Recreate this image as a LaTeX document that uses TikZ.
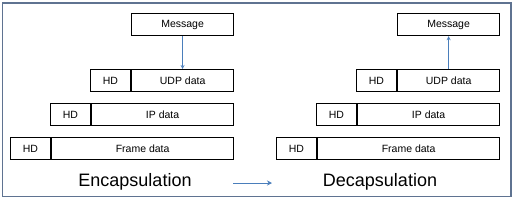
\documentclass[tikz,border=0pt]{standalone}
\usepackage{fontspec}
\setmainfont{Liberation Sans}
\usepackage{xcolor}
\usetikzlibrary{arrows.meta}
\definecolor{framegray}{HTML}{5F7391}
\definecolor{arrowblue}{HTML}{4A7EBB}

\begin{document}
\begin{tikzpicture}[x=1pt, y=-1pt, >=stealth,
    box/.style={draw, line width=1.2pt, minimum height=22pt, inner sep=1pt, font=\fontsize{10.5}{12}\selectfont},
    hdbox/.style={box, minimum width=40pt},
    flow/.style={->, arrowblue, line width=0.8pt},
    title/.style={font=\fontsize{18}{20}\selectfont}]
    \useasboundingbox (0,0) rectangle (516,202);
    \draw[framegray, line width=1.2pt] (2.5,3) rectangle (511,196.5);
    % Encapsulation side
    \node[box, minimum width=102pt, anchor=north west] (msgL) at (131,13) {Message};
    \node[box, minimum width=102pt, anchor=north west] (udpL) at (131,69) {UDP data};
    \node[hdbox, anchor=north east] (udpHdL) at (udpL.north west) {HD};
    \node[box, minimum width=142pt, anchor=north west] (ipL) at (91,103) {IP data};
    \node[hdbox, anchor=north east] (ipHdL) at (ipL.north west) {HD};
    \node[box, minimum width=182pt, anchor=north west] (frL) at (51,137) {Frame data};
    \node[hdbox, anchor=north east] (frHdL) at (frL.north west) {HD};
    \draw[flow] (msgL.south) -- (udpL.north);
    % Decapsulation side
    \node[box, minimum width=102pt, anchor=north west] (msgR) at (397,13) {Message};
    \node[box, minimum width=102pt, anchor=north west] (udpR) at (397,69) {UDP data};
    \node[hdbox, anchor=north east] (udpHdR) at (udpR.north west) {HD};
    \node[box, minimum width=142pt, anchor=north west] (ipR) at (357,103) {IP data};
    \node[hdbox, anchor=north east] (ipHdR) at (ipR.north west) {HD};
    \node[box, minimum width=182pt, anchor=north west] (frR) at (317,137) {Frame data};
    \node[hdbox, anchor=north east] (frHdR) at (frR.north west) {HD};
    \draw[flow] (udpR.north) -- (msgR.south);
    % Titles
    \node[title] (enc) at (135,182) {Encapsulation};
    \node[title] (dec) at (380,182) {Decapsulation};
    \coordinate (goFrom) at (233,183);
    \coordinate (goTo) at (272,183);
    \draw[flow, -{Stealth[length=5pt,width=5pt]}] (goFrom) -- (goTo);
\end{tikzpicture}
\end{document}
